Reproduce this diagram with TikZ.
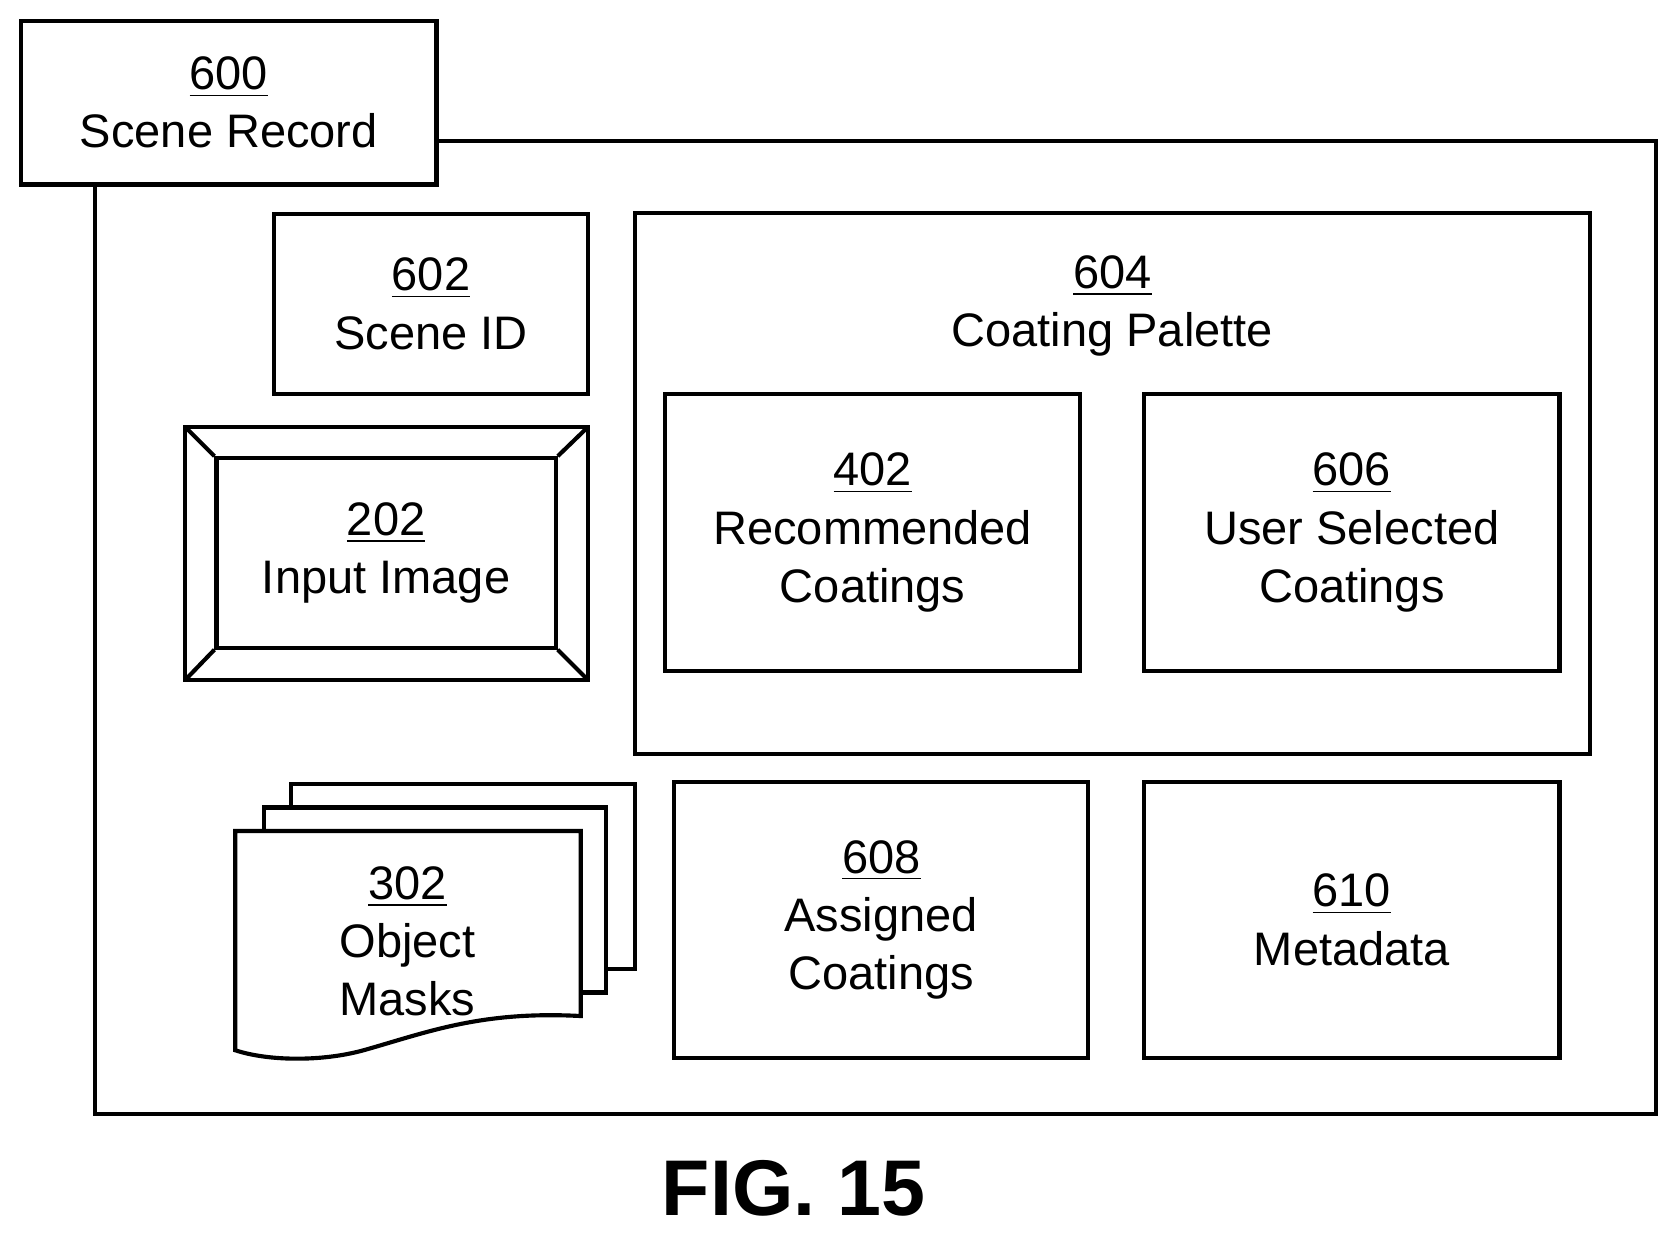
\documentclass[tikz,border=0pt]{standalone}
\usepackage{fontspec}
\setmainfont{Liberation Sans}
\usetikzlibrary{positioning}
\begin{document}
\begin{tikzpicture}[x=0.01cm,y=-0.01cm,
        box/.style={draw=black, line width=1.1pt, fill=white, align=center, inner sep=0pt,
          font=\fontsize{12.5}{15.5}\selectfont},
        line/.style={draw, line width=1.1pt}
    ]
        \useasboundingbox (0,0) rectangle (1568,1155);
        % Outer record
        \draw[line] (89,132) rectangle (1548,1042);
        \node[box, minimum width=3.88cm, minimum height=1.53cm] (record) at (214,96) {\underline{600}\\Scene Record};

        % Scene ID and input image
        \node[box, minimum width=2.93cm, minimum height=1.68cm] (sceneid) at (403,284) {\underline{602}\\Scene ID};
        \draw[line] (173,399) rectangle (550,636);
        \node[box, minimum width=3.17cm, minimum height=1.77cm] (image) at (361,517) {\underline{202}\\Input Image};
        \draw[line] (173,399) -- (image.north west);
        \draw[line] (550,399) -- (image.north east);
        \draw[line] (173,636) -- (image.south west);
        \draw[line] (550,636) -- (image.south east);

        % Coating palette
        \node[box, minimum width=8.92cm, minimum height=5.05cm] (palette) at (1040,452) {};
        \node[font=\fontsize{12.5}{15.5}\selectfont, align=center] (palettetext) at (1040,286) {\underline{604}\\Coating Palette};
        \node[box, minimum width=3.88cm, minimum height=2.59cm] (recommended) at (816,498) {\underline{402}\\Recommended\\Coatings};
        \node[box, minimum width=3.88cm, minimum height=2.59cm] (userselected) at (1264,498) {\underline{606}\\User Selected\\Coatings};

        % Object masks
        \draw[line, fill=white] (272,733) rectangle (594,906);
        \draw[line, fill=white] (247,755) rectangle (567,928);
        \draw[line, fill=white] (220,982) -- (220,777) -- (543,777) -- (543,950)
            .. controls (450,945) and (400,965) .. (340,982)
            .. controls (300,993) and (250,992) .. cycle;
        \node[font=\fontsize{12.5}{15.5}\selectfont, align=center] (masks) at (381,880) {\underline{302}\\Object\\Masks};

        % Assigned coatings and metadata
        \node[box, minimum width=3.87cm, minimum height=2.58cm] (assigned) at (824,860) {\underline{608}\\Assigned\\Coatings};
        \node[box, minimum width=3.88cm, minimum height=2.58cm] (metadata) at (1264,860) {\underline{610}\\Metadata};

        \node[font=\bfseries\fontsize{21}{24}\selectfont] (fig) at (742,1111) {FIG. 15};
    \end{tikzpicture}
\end{document}
